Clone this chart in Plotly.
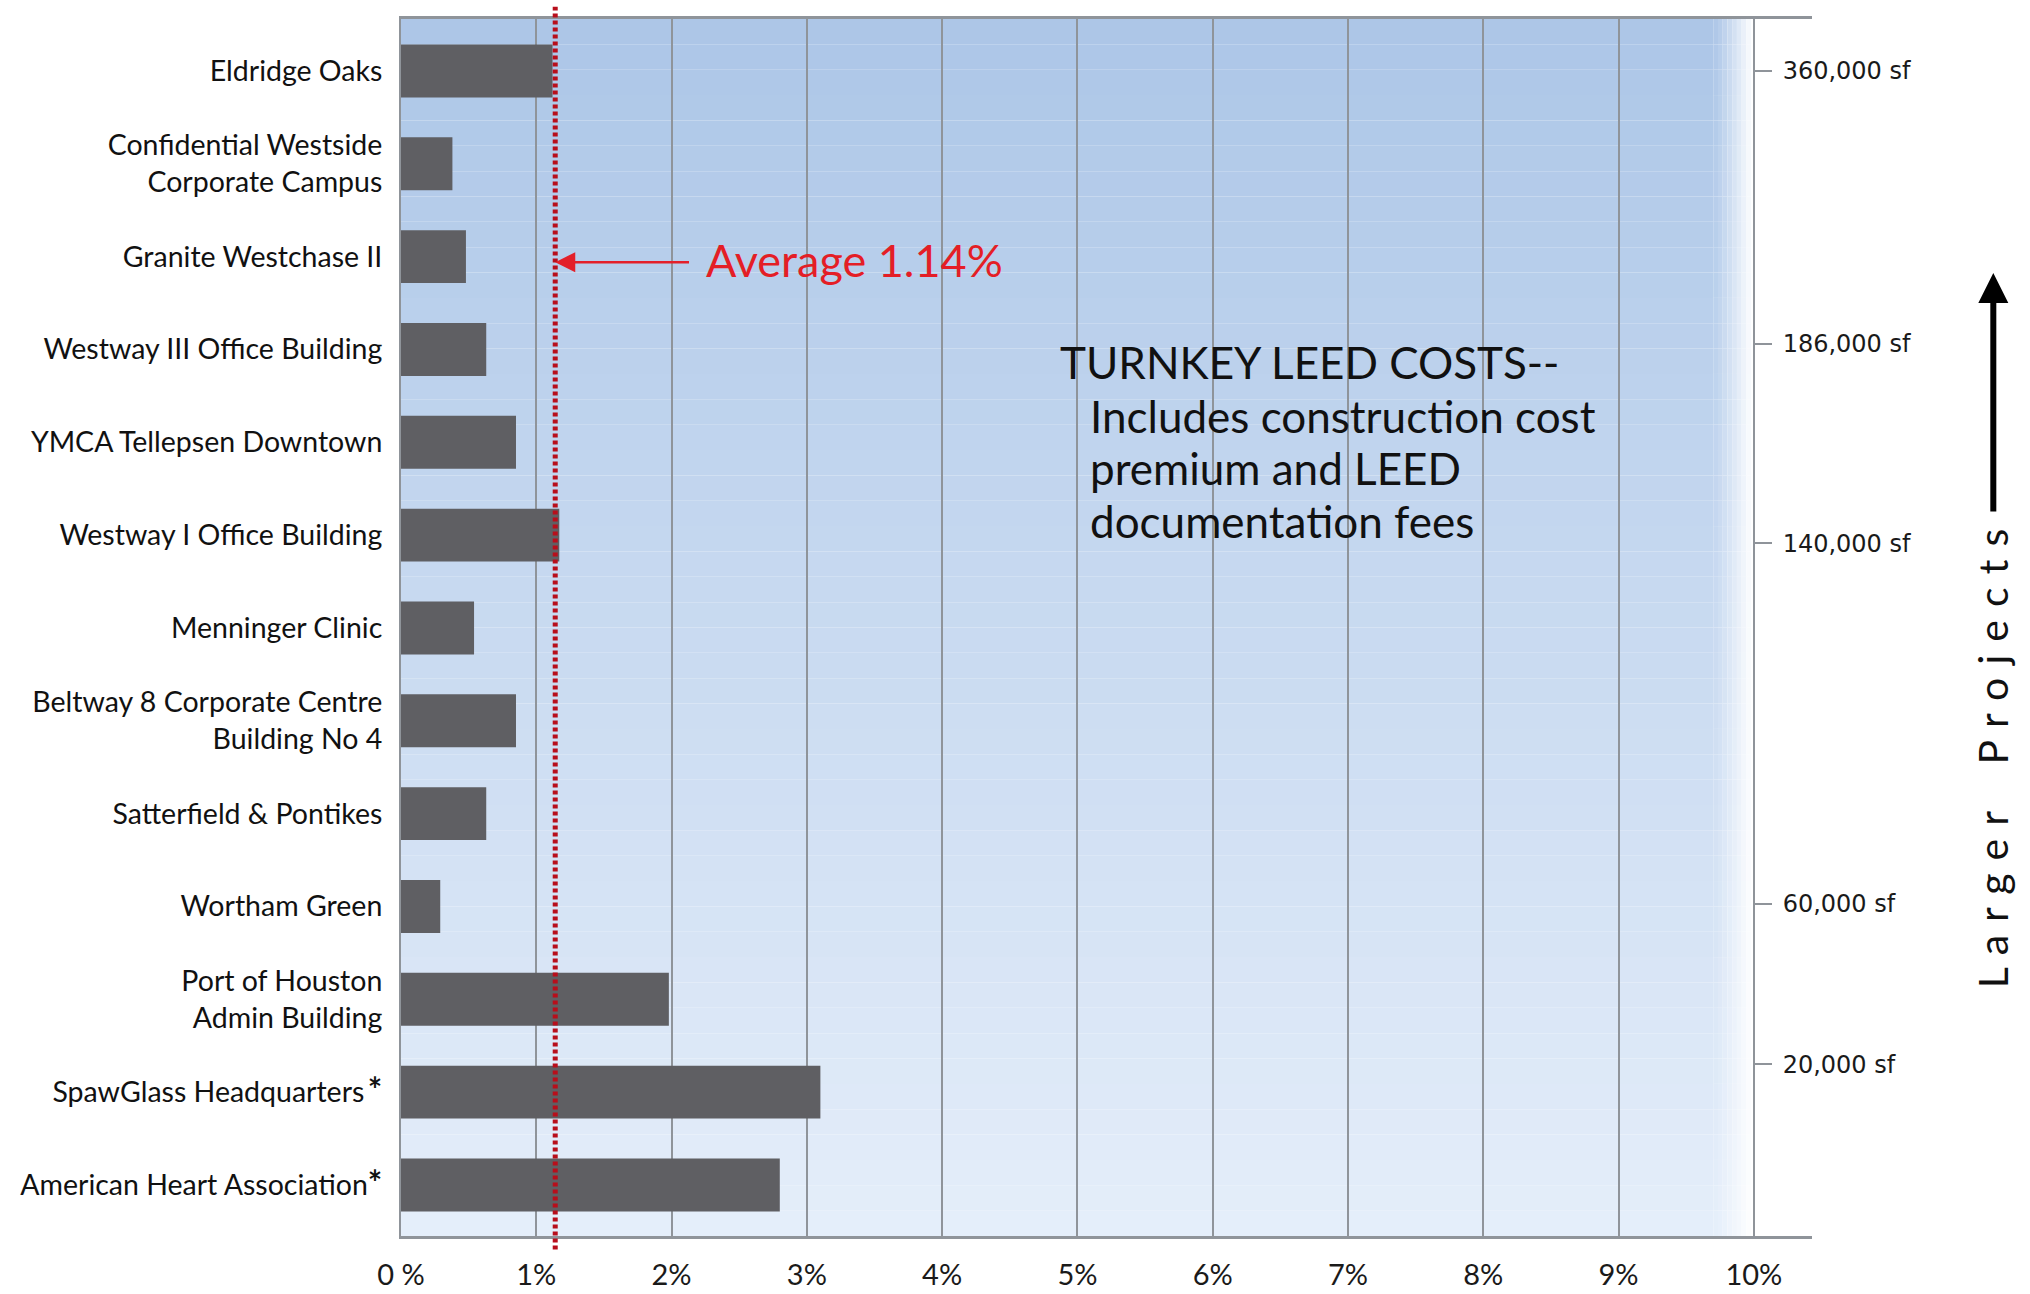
import plotly.graph_objects as go

# ---------------- data ----------------
STAR = "<span style='font-size:34px'><b>*</b></span>"
projects = [
    "Eldridge Oaks",
    "Confidential Westside<br>Corporate Campus",
    "Granite Westchase II",
    "Westway III Office Building",
    "YMCA Tellepsen Downtown",
    "Westway I Office Building",
    "Menninger Clinic",
    "Beltway 8 Corporate Centre<br>Building No 4",
    "Satterfield & Pontikes",
    "Wortham Green",
    "Port of Houston<br>Admin Building",
    "SpawGlass Headquarters\u2009" + STAR,
    "American Heart Association" + STAR,
]
leed_cost_pct = [1.12, 0.38, 0.48, 0.63, 0.85, 1.17, 0.54, 0.85, 0.63, 0.29, 1.98, 3.10, 2.80]
average_pct = 1.14

x_tick_values = [0, 1, 2, 3, 4, 5, 6, 7, 8, 9, 10]
x_tick_labels = ["0 %", "1%", "2%", "3%", "4%", "5%", "6%", "7%", "8%", "9%", "10%"]

size_tick_labels = ["360,000 sf", "186,000 sf", "140,000 sf", "60,000 sf", "20,000 sf"]
size_tick_rows = [0.0, 2.94, 5.09, 8.97, 10.70]

note_title = "TURNKEY LEED COSTS--"
note_lines = ["Includes construction cost", "premium and LEED", "documentation fees"]
side_label = "Larger Projects"

# ---------------- layout constants ----------------
X_MAX = 10.43
Y_RANGE = [12.55, -0.56]
GRID = "#8f949a"
FONT_LABEL = "Lato"

fig = go.Figure()

fig.add_trace(go.Bar(
    x=leed_cost_pct, y=projects, orientation="h",
    marker=dict(color="#5f5f63", line=dict(width=0)),
    width=0.57, showlegend=False, hoverinfo="x+y",
))
# helper trace to hold the right (project size) axis
fig.add_trace(go.Scatter(x=[None], y=[None], yaxis="y2", showlegend=False, hoverinfo="skip"))

# ---------------- background gradient (decoration) ----------------
top = (172, 198, 231)
bot = (229, 238, 250)
white = (255, 255, 255)
n_rows = 48
fade_start, fade_end = 9.70, 9.98
n_fade = 8
shapes = []
def mix(a, b, t):
    return tuple(round(a[i] + (b[i] - a[i]) * t) for i in range(3))
for r in range(n_rows):
    t = (r + 0.5) / n_rows
    c = mix(top, bot, t)
    y1 = 1 - r / n_rows
    y0 = 1 - (r + 1) / n_rows
    shapes.append(dict(type="rect", xref="x", yref="paper", x0=0, x1=fade_start,
                       y0=y0, y1=y1, fillcolor="rgb(%d,%d,%d)" % c,
                       line=dict(width=0), layer="below"))
    for k in range(n_fade):
        tf = (k + 0.5) / n_fade
        cf = mix(c, white, tf ** 1.2 * 0.95)
        xa = fade_start + (fade_end - fade_start) * k / n_fade
        xb = fade_start + (fade_end - fade_start) * (k + 1) / n_fade
        shapes.append(dict(type="rect", xref="x", yref="paper", x0=xa, x1=xb,
                           y0=y0, y1=y1, fillcolor="rgb(%d,%d,%d)" % cf,
                           line=dict(width=0), layer="below"))

# average line
shapes.append(dict(type="line", xref="x", yref="paper", x0=average_pct, x1=average_pct,
                   y0=-0.011, y1=1.01, line=dict(color="#b80e1b", width=5, dash="4px,3px"),
                   layer="above"))

note_font = dict(family=FONT_LABEL, size=44, color="#111111")
annotations = [
    # red arrow pointing to the average line
    dict(x=average_pct, y=2.06, xref="x", yref="y", text="", showarrow=True,
         ax=2.14, ay=2.06, axref="x", ayref="y",
         arrowhead=2, arrowsize=1.6, arrowwidth=2.5, arrowcolor="#e3202a"),
    dict(x=2.24, y=2.04, xref="x", yref="y", text=f"Average {average_pct:.2f}%",
         showarrow=False, xanchor="left", yanchor="middle",
         font=dict(family=FONT_LABEL, size=45, color="#e41e26")),
    dict(x=4.86, y=3.14, xref="x", yref="y", text=note_title,
         showarrow=False, xanchor="left", yanchor="middle", font=note_font),
]
for i, line in enumerate(note_lines):
    annotations.append(dict(x=5.08, y=3.715 + 0.565 * i, xref="x", yref="y", text=line,
                            showarrow=False, xanchor="left", yanchor="middle", font=note_font))

spaced = " \u200a".join(ch if ch != " " else "\u00a0\u00a0" for ch in side_label)
annotations += [
    dict(x=1.1285, y=0.392, xref="paper", yref="paper", text=spaced,
         textangle=-90, showarrow=False, xanchor="center", yanchor="middle",
         font=dict(family=FONT_LABEL, size=41, color="#111111")),
    # black upward arrow
    dict(x=1.1285, y=0.7913, xref="paper", yref="paper", text="", showarrow=True,
         ax=0, ay=240, arrowhead=2, arrowsize=1.0, arrowwidth=6, arrowcolor="#000000"),
]

fig.update_layout(
    width=2030, height=1294,
    margin=dict(l=401, r=218, t=19, b=58, autoexpand=False),
    paper_bgcolor="white", plot_bgcolor="white",
    shapes=shapes, annotations=annotations,
    xaxis=dict(
        range=[0, X_MAX], tickmode="array", tickvals=x_tick_values, ticktext=x_tick_labels,
        showgrid=True, gridcolor=GRID, gridwidth=2,
        showline=True, linecolor=GRID, linewidth=3, mirror=True,
        zeroline=False, ticks="", ticklabelstandoff=11, automargin=False,
        tickfont=dict(family=FONT_LABEL, size=29, color="#1a1a1a"),
    ),
    yaxis=dict(
        type="category", categoryorder="array", categoryarray=projects,
        range=Y_RANGE, showgrid=False, zeroline=False,
        showline=True, linecolor=GRID, linewidth=2,
        ticks="", ticklabelstandoff=11, automargin=False,
        tickfont=dict(family=FONT_LABEL, size=28.5, color="#111111"),
    ),
    yaxis2=dict(
        overlaying="y", anchor="free", position=10 / X_MAX, side="right",
        range=Y_RANGE, tickmode="array", tickvals=size_tick_rows, ticktext=size_tick_labels,
        showgrid=False, zeroline=False, showline=False, automargin=False,
        ticks="outside", ticklen=17, tickwidth=2, tickcolor=GRID,
        ticklabelstandoff=6,
        tickfont=dict(family="DejaVu Sans", size=24, color="#1a1a1a"),
    ),
)

fig.write_html("out.html")
